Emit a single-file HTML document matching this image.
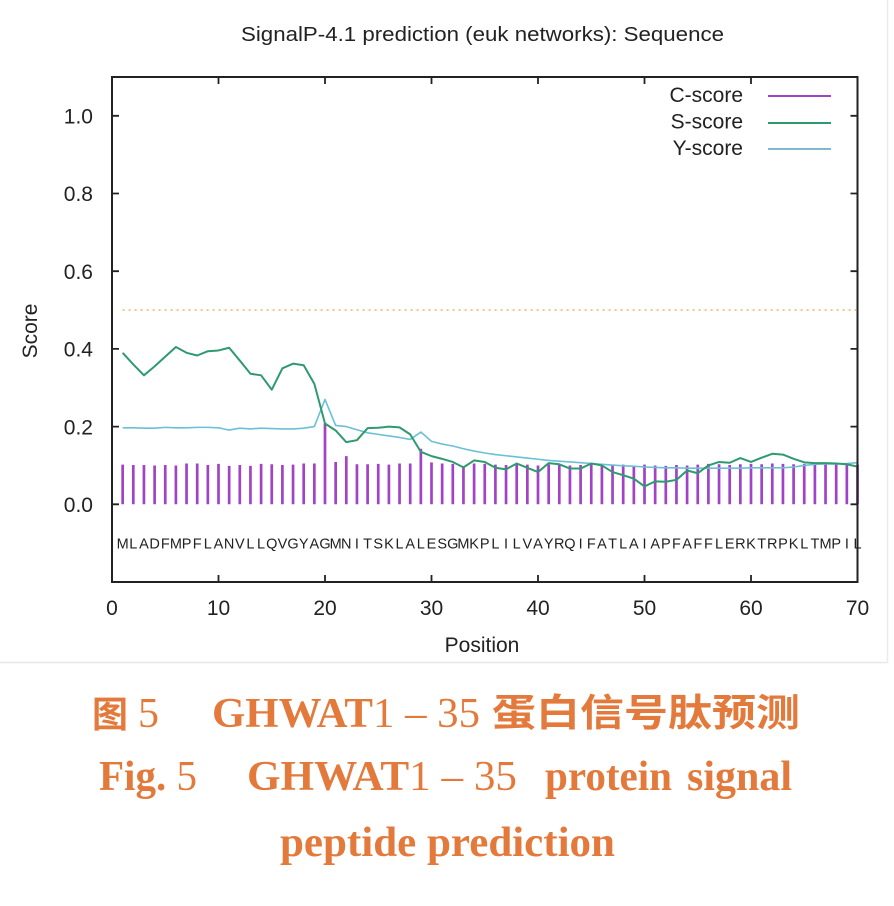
<!DOCTYPE html>
<html>
<head>
<meta charset="utf-8">
<style>
  html,body{margin:0;padding:0;background:#fff;}
  body{width:894px;height:906px;overflow:hidden;}
  svg{display:block;}
  .ax{font-family:"Liberation Sans",sans-serif;fill:#222;}
  .cap{font-family:"Liberation Serif","Noto Serif CJK SC",serif;font-weight:bold;fill:#e37a3c;}
  .capc{font-family:"Liberation Sans","Noto Sans CJK SC",sans-serif;font-weight:bold;fill:#e37a3c;}
  .rg{font-weight:normal;}
</style>
</head>
<body>
<svg width="894" height="906" viewBox="0 0 894 906" xmlns="http://www.w3.org/2000/svg">
  <rect x="0" y="0" width="894" height="906" fill="#fff"/>
  <line x1="0" y1="662.5" x2="888" y2="662.5" stroke="#e8e8e8" stroke-width="1.5"/>
  <line x1="887.5" y1="0" x2="887.5" y2="663" stroke="#ececec" stroke-width="1.5"/>

  <text class="ax" x="241" y="41" font-size="20" textLength="483" lengthAdjust="spacingAndGlyphs">SignalP-4.1 prediction (euk networks): Sequence</text>

  <line x1="122.6" y1="310" x2="856" y2="310" stroke="#f0b46a" stroke-width="1.6" stroke-dasharray="2,4"/>

  <g transform="translate(112,504.3) scale(10.65,-388.5)" fill="none">
    <path vector-effect="non-scaling-stroke" stroke="#a043c6" stroke-width="2.7"
      d="M1 0V.102M2 0V.101M3 0V.101M4 0V.100M5 0V.101M6 0V.100M7 0V.105M8 0V.105M9 0V.101M10 0V.104
         M11 0V.099M12 0V.101M13 0V.099M14 0V.104M15 0V.103M16 0V.101M17 0V.102M18 0V.105M19 0V.105M20 0V.208
         M21 0V.109M22 0V.124M23 0V.103M24 0V.103M25 0V.104M26 0V.102M27 0V.105M28 0V.105M29 0V.143M30 0V.108
         M31 0V.105M32 0V.104M33 0V.098M34 0V.105M35 0V.104M36 0V.102M37 0V.101M38 0V.104M39 0V.102M40 0V.100
         M41 0V.103M42 0V.102M43 0V.100M44 0V.101M45 0V.104M46 0V.102M47 0V.101M48 0V.102M49 0V.100M50 0V.102
         M51 0V.100M52 0V.099M53 0V.101M54 0V.100M55 0V.102M56 0V.104M57 0V.103M58 0V.101M59 0V.103M60 0V.104
         M61 0V.103M62 0V.105M63 0V.104M64 0V.103M65 0V.104M66 0V.103M67 0V.104M68 0V.103M69 0V.104M70 0V.102"/>
    <polyline vector-effect="non-scaling-stroke" stroke="#6bc0d8" stroke-width="1.6" stroke-linejoin="round"
      points="1,.197 2,.197 3,.196 4,.196 5,.198 6,.197 7,.197 8,.198 9,.198 10,.197 11,.191 12,.196 13,.194 14,.196 15,.195 16,.194 17,.194 18,.196 19,.2 20,.27 21,.203 22,.2 23,.192 24,.184 25,.18 26,.176 27,.172 28,.167 29,.186 30,.162 31,.155 32,.15 33,.143 34,.137 35,.132 36,.128 37,.125 38,.122 39,.119 40,.116 41,.113 42,.111 43,.109 44,.107 45,.105 46,.103 47,.101 48,.099 49,.098 50,.096 51,.095 52,.094 53,.094 54,.093 55,.093 56,.093 57,.093 58,.093 59,.093 60,.094 61,.094 62,.094 63,.094 64,.096 65,.1 66,.103 67,.104 68,.104 69,.105 70,.107"/>
    <polyline vector-effect="non-scaling-stroke" stroke="#2f9a70" stroke-width="2" stroke-linejoin="round"
      points="1,.39 2,.36 3,.332 4,.355 5,.38 6,.405 7,.39 8,.383 9,.394 10,.396 11,.403 12,.37 13,.336 14,.332 15,.295 16,.35 17,.362 18,.358 19,.31 20,.208 21,.19 22,.16 23,.165 24,.196 25,.197 26,.2 27,.198 28,.18 29,.135 30,.124 31,.117 32,.109 33,.095 34,.113 35,.109 36,.094 37,.09 38,.105 39,.094 40,.083 41,.106 42,.103 43,.092 44,.092 45,.105 46,.1 47,.083 48,.075 49,.066 50,.046 51,.059 52,.058 53,.063 54,.087 55,.08 56,.1 57,.109 58,.107 59,.119 60,.109 61,.12 62,.13 63,.128 64,.117 65,.108 66,.106 67,.106 68,.105 69,.103 70,.097"/>
  </g>

  <text class="ax" font-size="14.5" y="548.5" text-anchor="middle" fill="#2a2a2a"
    x="122.65 133.3 143.95 154.6 165.25 175.9 186.55 197.2 207.85 218.5 229.15 239.8 250.45 261.1 271.75 282.4 293.05 303.7 314.35 325 335.65 346.3 356.95 367.6 378.25 388.9 399.55 410.2 420.85 431.5 442.15 452.8 463.45 474.1 484.75 495.4 506.05 516.7 527.35 538 548.65 559.3 569.95 580.6 591.25 601.9 612.55 623.2 633.85 644.5 655.15 665.8 676.45 687.1 697.75 708.4 719.05 729.7 740.35 751 761.65 772.3 782.95 793.6 804.25 814.9 825.55 836.2 846.85 857.5">MLADFMPFLANVLLQVGYAGMNITSKLALESGMKPLILVAYRQIFATLAIAPFAFFLERKTRPKLTMPIL</text>

  <rect x="112" y="77" width="745.5" height="505" fill="none" stroke="#222" stroke-width="2"/>

  <g stroke="#222" stroke-width="1.8">
    <path d="M112 504.3h7M112 426.6h7M112 348.9h7M112 271.2h7M112 193.5h7M112 115.8h7"/>
    <path d="M857.5 504.3h-7M857.5 426.6h-7M857.5 348.9h-7M857.5 271.2h-7M857.5 193.5h-7M857.5 115.8h-7"/>
    <path d="M218.5 582v-7M325 582v-7M431.5 582v-7M538 582v-7M644.5 582v-7M751 582v-7"/>
    <path d="M218.5 77v7M325 77v7M431.5 77v7M538 77v7M644.5 77v7M751 77v7"/>
  </g>

  <g class="ax" font-size="21" text-anchor="end">
    <text x="93" y="512">0.0</text>
    <text x="93" y="434.3">0.2</text>
    <text x="93" y="356.6">0.4</text>
    <text x="93" y="278.9">0.6</text>
    <text x="93" y="201.2">0.8</text>
    <text x="93" y="123.5">1.0</text>
  </g>
  <g class="ax" font-size="21" text-anchor="middle">
    <text x="112" y="615">0</text>
    <text x="218.5" y="615">10</text>
    <text x="325" y="615">20</text>
    <text x="431.5" y="615">30</text>
    <text x="538" y="615">40</text>
    <text x="644.5" y="615">50</text>
    <text x="751" y="615">60</text>
    <text x="857.5" y="615">70</text>
  </g>

  <text class="ax" font-size="21" x="482" y="652" text-anchor="middle">Position</text>
  <text class="ax" font-size="21" text-anchor="middle" transform="translate(37,331) rotate(-90)">Score</text>

  <g class="ax" font-size="21" text-anchor="end">
    <text x="743" y="102">C-score</text>
    <text x="743" y="128.5">S-score</text>
    <text x="743" y="155">Y-score</text>
  </g>
  <line x1="768" y1="96" x2="831" y2="96" stroke="#a043c6" stroke-width="2"/>
  <line x1="768" y1="123" x2="831" y2="123" stroke="#2f9a70" stroke-width="2"/>
  <line x1="768" y1="149" x2="831" y2="149" stroke="#7fb9d0" stroke-width="2"/>

  <text class="capc" x="92" y="727" font-size="36">图</text>
  <text class="cap rg" x="138" y="727" font-size="42">5</text>
  <text class="cap" x="212" y="727" font-size="42" textLength="268" lengthAdjust="spacingAndGlyphs">GHWAT<tspan class="rg">1 – 35</tspan></text>
  <text class="capc" x="492" y="726" font-size="38" textLength="308" lengthAdjust="spacingAndGlyphs">蛋白信号肽预测</text>

  <text class="cap" x="99" y="790" font-size="42" textLength="98" lengthAdjust="spacingAndGlyphs">Fig. <tspan class="rg">5</tspan></text>
  <text class="cap" x="247" y="790" font-size="42" textLength="270" lengthAdjust="spacingAndGlyphs">GHWAT<tspan class="rg">1 – 35</tspan></text>
  <text class="cap" x="545" y="790" font-size="42" textLength="127" lengthAdjust="spacingAndGlyphs">protein</text>
  <text class="cap" x="687" y="790" font-size="42" textLength="105" lengthAdjust="spacingAndGlyphs">signal</text>

  <text class="cap" x="280" y="856" font-size="42" textLength="335" lengthAdjust="spacingAndGlyphs">peptide  prediction</text>
</svg>
</body>
</html>
